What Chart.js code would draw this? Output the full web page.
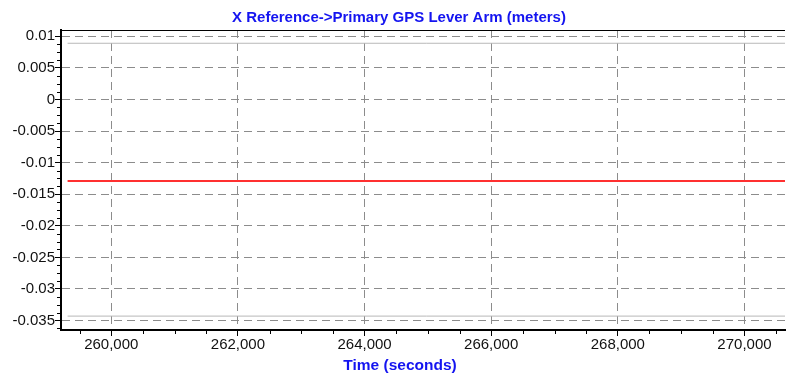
<!DOCTYPE html>
<html>
<head>
<meta charset="utf-8">
<script src="https://cdn.jsdelivr.net/npm/chart.js@4.4.0/dist/chart.umd.min.js"></script>
<style>
  html, body { margin: 0; padding: 0; background: #fff; }
  #wrap { width: 786px; height: 379px; position: relative; }
</style>
</head>
<body>
<div id="wrap"><canvas id="ChartLever"></canvas></div>
<script>
// data
var times = [259310, 270640];
var leverX = [-0.0129, -0.0129];
var upperLine = [0.0089, 0.0089];
var lowerLine = [-0.0343, -0.0343];

var xTicks = [260000, 262000, 264000, 266000, 268000, 270000];
var yTicks = [0.01, 0.005, 0, -0.005, -0.01, -0.015, -0.02, -0.025, -0.03, -0.035];

var chartTitle = 'X Reference->Primary GPS Lever Arm (meters)';
var xTitle = 'Time (seconds)';

function pts(ys) {
  var out = [];
  for (var i in times) {
    out.push({x: times[i], y: ys[i]});
  }
  return out;
}

// minor ticks, frame top line and the two titles
var extras = {
  id: 'extras',
  afterDraw: function(chart) {
    var ctx = chart.ctx;
    var area = chart.chartArea;
    var xs = chart.scales.x;
    var ys = chart.scales.y;
    ctx.save();
    ctx.strokeStyle = '#000';
    ctx.lineWidth = 1;
    ctx.beginPath();
    for (var v = 259500; v <= xs.max; v += 500) {
      if (v % 2000 == 0) continue;
      var px = Math.round(xs.getPixelForValue(v)) + 0.5;
      ctx.moveTo(px, area.bottom);
      ctx.lineTo(px, area.bottom + 4);
    }
    for (var k = -29; k <= 8; k++) {
      if (k % 4 == 0) continue;
      var py = Math.round(ys.getPixelForValue(k * 0.00125)) + 0.5;
      ctx.moveTo(area.left - 4, py);
      ctx.lineTo(area.left, py);
    }
    ctx.moveTo(area.left, area.top + 0.5);
    ctx.lineTo(area.right, area.top + 0.5);
    ctx.stroke();

    ctx.fillStyle = '#1414f0';
    ctx.textAlign = 'center';
    ctx.textBaseline = 'middle';
    ctx.font = 'bold 15px "Liberation Sans", Arial, sans-serif';
    ctx.fillText(chartTitle, 399, 18);
    ctx.font = 'bold 15.5px "Liberation Sans", Arial, sans-serif';
    ctx.fillText(xTitle, 400, 366);
    ctx.restore();
  }
};

var ctx = document.getElementById('ChartLever').getContext('2d');
var chartLever = new Chart(ctx, {
  type: 'line',
  data: {
    datasets: [
      {
        label: 'upper',
        data: pts(upperLine),
        borderColor: '#b8b8b8',
        borderWidth: 1,
        pointRadius: 0
      },
      {
        label: 'lower',
        data: pts(lowerLine),
        borderColor: '#b8b8b8',
        borderWidth: 1,
        pointRadius: 0
      },
      {
        label: 'X lever arm',
        data: pts(leverX),
        borderColor: '#ff3030',
        borderWidth: 2,
        pointRadius: 0
      }
    ]
  },
  options: {
    responsive: true,
    maintainAspectRatio: false,
    animation: false,
    layout: { padding: { top: 30, right: 1, left: 0, bottom: 0 } },
    plugins: {
      legend: { display: false },
      tooltip: { enabled: false }
    },
    scales: {
      x: {
        type: 'linear',
        min: 259206,
        max: 270640,
        afterBuildTicks: function(scale) {
          scale.ticks = xTicks.map(function(v) { return {value: v}; });
        },
        afterFit: function(scale) { scale.height = 49; },
        border: { display: true, color: '#000', width: 2, dash: [8, 5] },
        grid: {
          color: '#8c8c8c',
          tickColor: '#000',
          tickLength: 6
        },
        ticks: {
          color: '#111',
          padding: 0,
          maxRotation: 0,
          font: { family: '"Liberation Sans", Arial, sans-serif', size: 15 },
          callback: function(v) { return v.toLocaleString('en-US'); }
        }
      },
      y: {
        min: -0.0365,
        max: 0.011,
        afterBuildTicks: function(scale) {
          scale.ticks = yTicks.map(function(v) { return {value: v}; });
        },
        afterFit: function(scale) { scale.width = 61; },
        border: { display: true, color: '#000', width: 2, dash: [8, 5] },
        grid: {
          color: '#8c8c8c',
          tickColor: '#000',
          tickLength: 6
        },
        ticks: {
          color: '#111',
          padding: 0,
          font: { family: '"Liberation Sans", Arial, sans-serif', size: 15 },
          callback: function(v) { return String(parseFloat(v.toFixed(4))); }
        }
      }
    }
  },
  plugins: [extras]
});
</script>
</body>
</html>
